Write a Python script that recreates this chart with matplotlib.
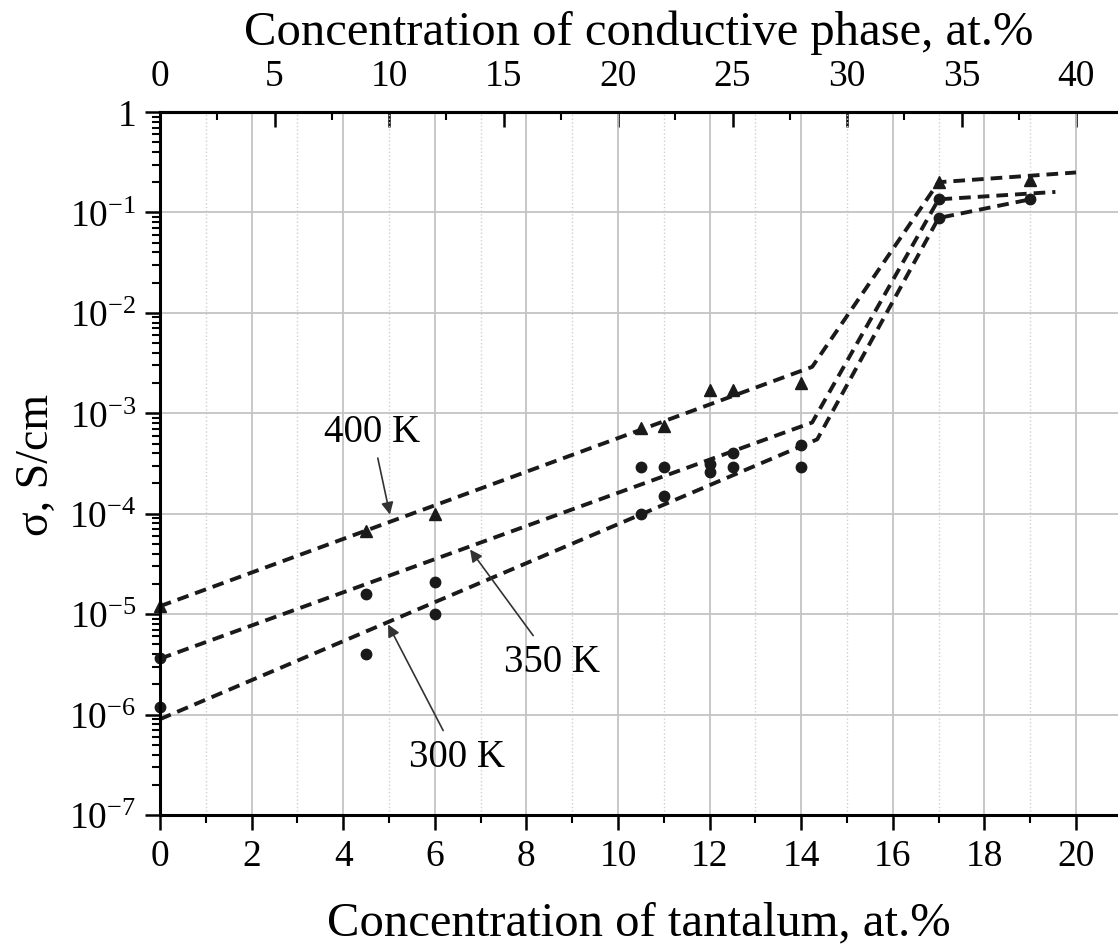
import math
import matplotlib
matplotlib.use("Agg")
import matplotlib.pyplot as plt
from matplotlib.ticker import FixedLocator, FuncFormatter, LogLocator, NullFormatter, MultipleLocator

plt.rcParams["font.family"] = "Liberation Serif"
plt.rcParams["mathtext.fontset"] = "custom"
plt.rcParams["mathtext.rm"] = "Liberation Serif"
plt.rcParams["mathtext.it"] = "Liberation Serif:italic"

# measured points (Ta concentration, at.%  vs  conductivity, S/cm)
x_400 = [0, 4.5, 6, 10.5, 11, 12, 12.5, 14, 17, 19]
s_400 = [1.2e-5, 6.8e-5, 1.0e-4, 7.1e-4, 7.5e-4, 1.7e-3, 1.7e-3, 2.0e-3, 0.2, 0.21]
x_350 = [0, 4.5, 6, 10.5, 11, 12, 12.5, 14, 17]
s_350 = [3.7e-6, 1.6e-5, 2.1e-5, 2.9e-4, 2.9e-4, 3.1e-4, 4.0e-4, 4.8e-4, 0.135]
x_300 = [0, 4.5, 6, 10.5, 11, 12, 12.5, 14, 17, 19]
s_300 = [1.2e-6, 4.0e-6, 1.0e-5, 1.0e-4, 1.5e-4, 2.6e-4, 2.9e-4, 2.9e-4, 0.088, 0.135]

# dashed guide lines
fx_400 = [0, 14.24, 17, 20]
fs_400 = [1.2e-5, 2.9e-3, 0.2, 0.25]
fx_350 = [0, 14.24, 17, 19.55]
fs_350 = [3.6e-6, 8.1e-4, 0.135, 0.16]
fx_300 = [0, 14.35, 17, 19]
fs_300 = [9e-7, 5.5e-4, 0.088, 0.135]

fig = plt.figure(figsize=(11.18, 9.53), dpi=100)
ax = fig.add_axes([160 / 1118, 1 - 816 / 953, 1 - 160 / 1118, (816 - 113) / 953])

dash = dict(color="#1a1a1a", lw=2.8, dashes=(3.0, 1.8))
ax.plot(fx_400, fs_400, **dash)
ax.plot(fx_350, fs_350, **dash)
ax.plot(fx_300, fs_300, **dash)

ax.plot(x_400, s_400, "^", color="#1a1a1a", ms=8, ls="none", clip_on=False)
ax.plot(x_350, s_350, "o", color="#1a1a1a", ms=7.5, ls="none", clip_on=False)
ax.plot(x_300, s_300, "o", color="#1a1a1a", ms=7.5, ls="none", clip_on=False)

ax.set_yscale("log")
ax.set_ylim(1e-7, 1)
ax.set_xlim(0, 958 / 45.8)

ax.xaxis.set_major_locator(MultipleLocator(2))
ax.xaxis.set_minor_locator(MultipleLocator(1))
ax.yaxis.set_major_locator(LogLocator(base=10, numticks=20))
ax.yaxis.set_minor_locator(LogLocator(base=10, subs=range(2, 10), numticks=20))
ax.yaxis.set_minor_formatter(NullFormatter())


def ylab(v, pos):
    if abs(v - 1) < 1e-9:
        return "1"
    e = int(round(math.log10(v)))
    return r"$\mathregular{10^{%d}}$" % e


ax.yaxis.set_major_formatter(FuncFormatter(ylab))

ax.tick_params(which="major", direction="out", length=11, width=1.8, labelsize=27, pad=6)
ax.tick_params(which="minor", direction="out", length=6, width=1.5)
ax.tick_params(axis="x", which="both", top=False)

for side in ["left", "bottom", "top"]:
    ax.spines[side].set_linewidth(2.2)
ax.spines["right"].set_visible(False)

ax.grid(which="major", color="#c4c4c4", lw=1.3)
ax.grid(which="minor", axis="x", color="#d0d0d0", lw=1.0, ls=":")
ax.set_axisbelow(True)

ax.set_xlabel("Concentration of tantalum, at.%", fontsize=35, labelpad=20)
ax.set_ylabel("σ, S/cm", fontsize=33, labelpad=8)

top = ax.secondary_xaxis("top", functions=(lambda x: 2 * x, lambda x: x / 2))
top.xaxis.set_major_locator(FixedLocator(list(range(0, 45, 5))))
top.xaxis.set_minor_locator(MultipleLocator(2.5))
top.xaxis.set_minor_formatter(NullFormatter())
top.tick_params(which="major", direction="in", length=11, width=1.8, labelsize=27, pad=14)
top.tick_params(which="minor", direction="in", length=6, width=1.5)
top.spines["top"].set_linewidth(2.2)
top.set_xlabel("Concentration of conductive phase, at.%", fontsize=35, labelpad=10)

arrow = dict(arrowstyle="-|>", color="#333333", lw=1.2, mutation_scale=18, shrinkA=4, shrinkB=0)
ax.annotate("400 K", xy=(5.02, 9.8e-5), xytext=(4.63, 10 ** -3.18), ha="center", va="center",
            fontsize=28, arrowprops=arrow)
ax.annotate("350 K", xy=(6.77, 4.4e-5), xytext=(8.56, 10 ** -5.47), ha="center", va="center",
            fontsize=28, arrowprops=arrow)
ax.annotate("300 K", xy=(4.98, 7.9e-6), xytext=(6.48, 10 ** -6.42), ha="center", va="center",
            fontsize=28, arrowprops=arrow)

fig.savefig("out.png", dpi=100)
